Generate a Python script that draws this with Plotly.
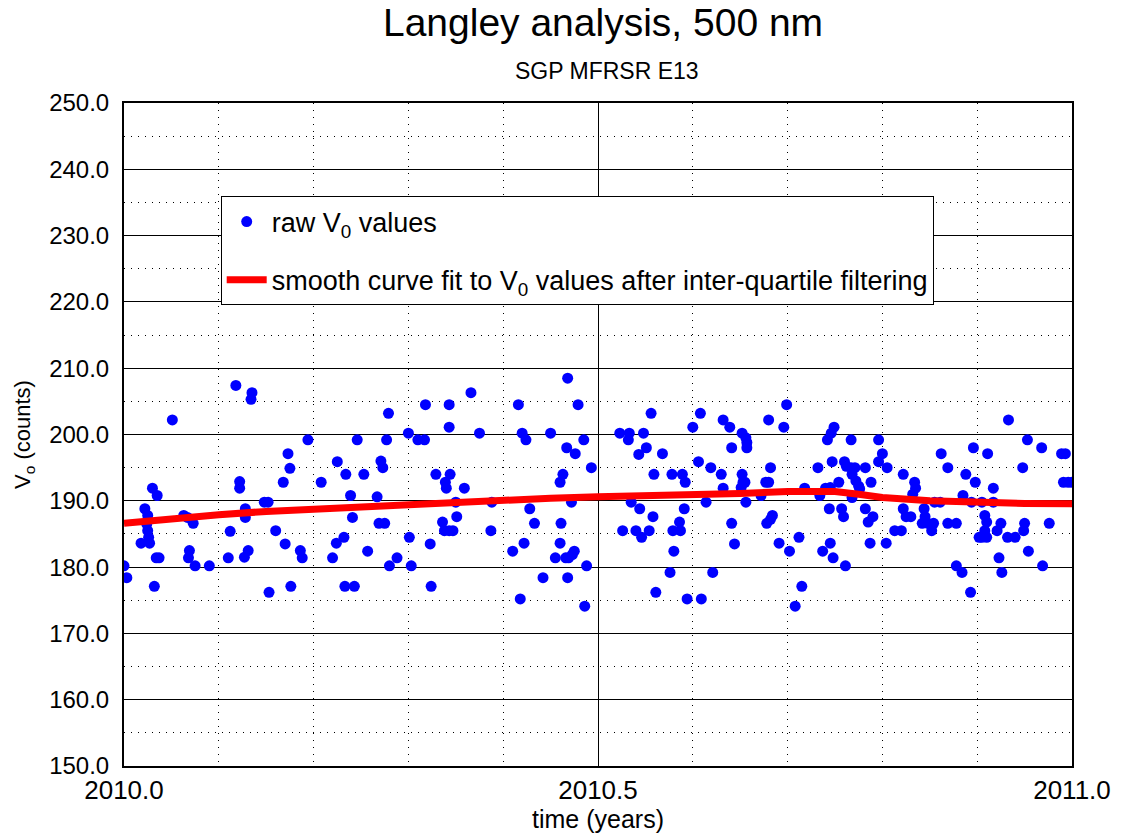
import plotly.graph_objects as go

# Raw Langley V0 retrievals (decimal year, counts)
raw_time = [
    2010.000, 2010.003, 2010.022, 2010.025, 2010.024, 2010.025, 2010.026, 2010.018, 2010.027, 2010.030,
    2010.032, 2010.034, 2010.037, 2010.035, 2010.051, 2010.063, 2010.067, 2010.073, 2010.069, 2010.068,
    2010.075, 2010.090, 2010.110, 2010.112, 2010.118, 2010.122, 2010.122, 2010.127, 2010.131, 2010.128,
    2010.128, 2010.134, 2010.135, 2010.148, 2010.152, 2010.153, 2010.160, 2010.168, 2010.170, 2010.173,
    2010.175, 2010.176, 2010.186, 2010.188, 2010.194, 2010.208, 2010.220, 2010.224, 2010.225, 2010.232,
    2010.233, 2010.234, 2010.239, 2010.241, 2010.243, 2010.246,
    2010.253, 2010.257, 2010.267, 2010.269, 2010.275, 2010.271, 2010.273, 2010.277, 2010.279, 2010.288,
    2010.280, 2010.300, 2010.301, 2010.303, 2010.310, 2010.317, 2010.318, 2010.323, 2010.324, 2010.329,
    2010.336, 2010.338, 2010.343, 2010.347, 2010.339, 2010.340, 2010.344, 2010.343, 2010.343, 2010.351,
    2010.350, 2010.359, 2010.366, 2010.375, 2010.387, 2010.388, 2010.410, 2010.416, 2010.418, 2010.420,
    2010.424, 2010.422, 2010.428, 2010.433, 2010.442, 2010.450, 2010.455, 2010.460, 2010.463, 2010.460,
    2010.461, 2010.466, 2010.469, 2010.473, 2010.475, 2010.467, 2010.468, 2010.468, 2010.472, 2010.476,
    2010.479, 2010.485, 2010.488, 2010.493, 2010.486,
    2010.523, 2010.533, 2010.532, 2010.548, 2010.556, 2010.551, 2010.543, 2010.568, 2010.559, 2010.578,
    2010.589, 2010.592, 2010.535, 2010.544, 2010.558, 2010.526, 2010.540, 2010.546, 2010.554, 2010.580,
    2010.576, 2010.561, 2010.586, 2010.579, 2010.587, 2010.591, 2010.594, 2010.600, 2010.608, 2010.606,
    2010.614, 2010.609, 2010.619, 2010.621, 2010.630, 2010.632, 2010.632, 2010.639, 2010.641, 2010.641,
    2010.644, 2010.652, 2010.656, 2010.657, 2010.657, 2010.652, 2010.653, 2010.651, 2010.655, 2010.656,
    2010.672, 2010.677, 2010.680, 2010.682, 2010.680, 2010.678, 2010.682, 2010.684, 2010.691, 2010.696,
    2010.699, 2010.702, 2010.712, 2010.715, 2010.708, 2010.718, 2010.732, 2010.734, 2010.740, 2010.745,
    2010.744, 2010.737, 2010.745, 2010.748, 2010.747, 2010.742, 2010.746, 2010.749,
    2010.767, 2010.760, 2010.762, 2010.767, 2010.771, 2010.768, 2010.772, 2010.775, 2010.776, 2010.754,
    2010.782, 2010.788, 2010.768, 2010.757, 2010.759, 2010.782, 2010.785, 2010.790, 2010.761, 2010.787,
    2010.804, 2010.796, 2010.800, 2010.796, 2010.805, 2010.813, 2010.820, 2010.822, 2010.834, 2010.835,
    2010.832, 2010.822, 2010.825, 2010.830, 2010.844, 2010.845, 2010.842, 2010.848, 2010.854, 2010.852,
    2010.855, 2010.861, 2010.862, 2010.869, 2010.869, 2010.878, 2010.878, 2010.884, 2010.885, 2010.888,
    2010.893, 2010.896, 2010.898, 2010.894, 2010.905, 2010.908, 2010.910, 2010.908, 2010.905, 2010.910,
    2010.902, 2010.911, 2010.917, 2010.917, 2010.925, 2010.921, 2010.923, 2010.926, 2010.933, 2010.932,
    2010.940, 2010.948, 2010.949, 2010.950, 2010.953, 2010.954, 2010.968, 2010.969, 2010.976, 2010.989,
    2010.993, 2010.991, 2010.996, 2011.000,
]
raw_v0 = [
    180.2, 178.4, 188.8, 187.8, 186.5, 185.5, 184.5, 183.6, 183.6, 191.9,
    177.1, 181.4, 181.4, 190.8, 202.2, 187.8, 187.5, 186.6, 182.5, 181.4,
    180.2, 180.2, 181.4, 185.4, 207.4, 192.9, 191.9, 181.5, 182.5, 188.8,
    187.5, 205.3, 206.3, 189.8, 189.8, 176.2, 185.5, 192.8, 183.5, 197.1,
    194.9, 177.1, 182.5, 181.4, 199.2, 192.8, 181.4, 183.6, 195.9, 184.5,
    177.1, 194.0, 190.8, 187.5, 177.1, 199.2,
    194.0, 182.4, 190.6, 186.6, 186.6, 196.0, 195.0, 199.2, 203.2, 181.4,
    180.2, 200.2, 184.5, 180.2, 199.2, 199.2, 204.5, 183.5, 177.1, 194.0,
    186.8, 185.5, 185.5, 185.5, 192.8, 191.9, 194.0, 204.5, 201.1, 187.6,
    189.8, 191.9, 206.3, 200.2, 185.5, 189.8, 182.4, 204.5, 175.2, 200.2,
    199.2, 183.6, 188.8, 186.6, 178.4, 200.2, 181.4, 192.8, 194.0, 183.6,
    186.6, 181.4, 181.4, 181.9, 182.4, 198.0, 208.5, 178.4, 189.8, 197.1,
    204.5, 199.2, 180.2, 195.0, 174.1,
    200.2, 200.2, 199.2, 200.2, 203.2, 198.0, 197.0, 197.1, 194.0, 194.0,
    194.0, 192.8, 189.8, 188.8, 187.6, 185.5, 185.5, 184.5, 185.5, 182.4,
    179.2, 176.2, 186.8, 185.5, 185.5, 188.8, 175.2, 201.1, 203.2, 195.9,
    189.8, 175.2, 195.0, 179.2, 194.0, 191.9, 202.2, 201.1, 198.0, 186.6,
    183.5, 200.2, 199.5, 198.8, 198.0, 194.0, 192.8, 192.0, 192.8, 189.8,
    190.8, 192.8, 192.8, 195.0, 202.2, 186.6, 187.2, 187.8, 183.6, 201.1,
    204.5, 182.4, 184.5, 177.1, 174.1, 191.9, 195.0, 190.8, 191.9, 192.0,
    188.8, 182.4, 183.6, 181.4, 195.9, 199.2, 200.2, 201.1,
    199.2, 195.9, 195.2, 195.0, 195.0, 194.0, 193.0, 192.2, 191.8, 192.8,
    195.0, 192.8, 190.5, 188.8, 187.6, 188.8, 186.8, 187.6, 180.2, 183.6,
    183.6, 199.2, 197.1, 195.9, 195.0, 185.5, 185.5, 194.0, 192.8, 191.9,
    191.0, 188.8, 187.6, 187.6, 188.8, 187.6, 186.6, 186.6, 186.6, 185.5,
    189.8, 189.8, 197.1, 195.0, 186.6, 186.6, 180.2, 179.2, 190.8, 194.0,
    176.2, 198.0, 192.8, 189.8, 189.8, 187.8, 186.8, 185.5, 184.5, 184.5,
    184.5, 197.1, 191.9, 189.8, 186.6, 185.5, 181.4, 179.2, 202.2, 184.5,
    184.5, 195.0, 185.5, 186.6, 199.2, 182.4, 198.0, 180.2, 186.6, 197.1,
    197.1, 192.8, 192.8, 192.8,
]

# Smooth fit after inter-quartile filtering
fit_time = [2010.00, 2010.05, 2010.10, 2010.15, 2010.20, 2010.25, 2010.30, 2010.35, 2010.40, 2010.45,
            2010.50, 2010.55, 2010.60, 2010.65, 2010.70, 2010.75, 2010.775, 2010.80, 2010.85, 2010.90,
            2010.95, 2011.00]
fit_v0 = [186.6, 187.3, 187.9, 188.4, 188.75, 189.1, 189.5, 189.9, 190.2, 190.4,
          190.6, 190.7, 190.8, 191.1, 191.4, 191.4, 191.0, 190.5, 190.0, 189.75,
          189.6, 189.55]

FONT = "Liberation Sans, Arial, sans-serif"
DOTS = "1px,6px"

fig = go.Figure()
fig.add_trace(go.Scatter(
    x=raw_time, y=raw_v0, mode="markers",
    name="raw V<sub>0</sub> values",
    marker=dict(symbol="circle", size=11, color="#0000ff", line=dict(width=0)),
    legendgroup="a",
))
fig.add_trace(go.Scatter(
    x=fit_time, y=fit_v0, mode="lines",
    name="smooth curve fit to V<sub>0</sub> values after inter-quartile filtering",
    line=dict(color="#ff0000", width=7),
    legendgroup="b",
))

fig.update_layout(
    width=1123, height=837,
    margin=dict(l=124, r=46, t=103, b=67),
    paper_bgcolor="white", plot_bgcolor="white",
    font=dict(family=FONT, color="black", size=20),
    title=dict(text="Langley analysis, 500 nm", x=0.537, xanchor="center",
               y=0.99, yanchor="top", font=dict(size=39, family=FONT)),
    annotations=[dict(text="SGP MFRSR E13", xref="paper", yref="paper",
                      x=0.51, y=1.0, yshift=32, xanchor="center", yanchor="middle",
                      showarrow=False, font=dict(size=23, family=FONT))],
    legend=dict(x=0.102, y=0.859, xanchor="left", yanchor="top",
                bgcolor="white", bordercolor="black", borderwidth=1,
                font=dict(size=27, family=FONT), tracegroupgap=20,
                itemwidth=40),
    showlegend=True,
)

fig.update_xaxes(
    range=[2010.0, 2011.0], dtick=0.5, tick0=2010.0, tickformat=".1f",
    showgrid=True, gridcolor="black", gridwidth=1,
    minor=dict(dtick=0.1, showgrid=True, gridcolor="black", griddash=DOTS, gridwidth=1),
    showline=True, linecolor="black", linewidth=2, mirror=True,
    ticks="", zeroline=False,
    title=dict(text="time (years)", font=dict(size=25), standoff=2),
    tickfont=dict(size=26),
)
fig.update_yaxes(
    range=[150, 250], dtick=10, tick0=150, tickformat=".1f",
    showgrid=True, gridcolor="black", gridwidth=1,
    minor=dict(dtick=5, showgrid=True, gridcolor="black", griddash=DOTS, gridwidth=1),
    showline=True, linecolor="black", linewidth=2, mirror=True,
    ticks="", zeroline=False, ticklabelstandoff=8,
    title=dict(text="V<sub>o</sub> (counts)", font=dict(size=22), standoff=12),
    tickfont=dict(size=24),
)

fig.write_html("out.html")
